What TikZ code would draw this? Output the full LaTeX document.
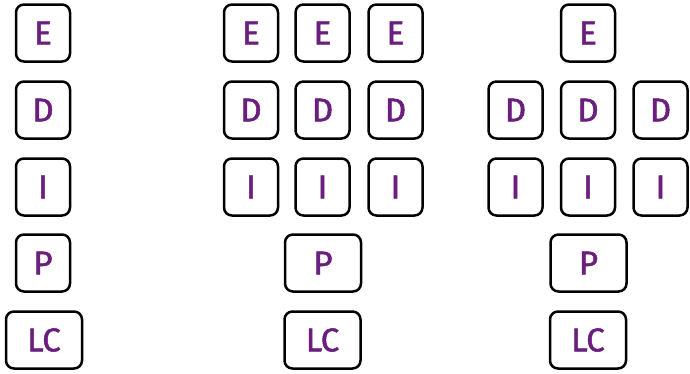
\documentclass[tikz,border=0pt]{standalone}
\usepackage{fontspec}
\setmainfont{Fira Sans}[FakeBold=1.5,UprightFeatures={FakeBold=1.5}]
\definecolor{letter}{HTML}{6A1E7E}
\begin{document}
\begin{tikzpicture}[x=1pt,y=-1pt,
  tile/.style={draw=black,line width=2.5pt,rounded corners=8pt,minimum width=54pt,minimum height=57pt,inner sep=0pt,text=letter,font=\fontsize{33}{33}\selectfont},
  widetile/.style={tile,minimum width=76pt}]
\useasboundingbox[fill=white] (0,0) rectangle (690,373);
% column 1
\node[tile] (aE) at (43,33) {E};
\node[tile] (aD) at (43,110) {D};
\node[tile] (aI) at (43,187) {I};
\node[tile] (aP) at (43,263) {P};
\node[widetile] (aLC) at (44,340) {LC};
% column 2
\node[tile] (bE1) at (251,33) {E};
\node[tile] (bE2) at (322.5,33) {E};
\node[tile] (bE3) at (395.5,33) {E};
\node[tile] (bD1) at (251,110) {D};
\node[tile] (bD2) at (322.5,110) {D};
\node[tile] (bD3) at (395.5,110) {D};
\node[tile] (bI1) at (251,187) {I};
\node[tile] (bI2) at (322.5,187) {I};
\node[tile] (bI3) at (395.5,187) {I};
\node[widetile] (bP) at (323,263) {P};
\node[widetile] (bLC) at (322.5,340) {LC};
% column 3
\node[tile] (cE) at (588,33) {E};
\node[tile] (cD1) at (515.5,110) {D};
\node[tile] (cD2) at (588,110) {D};
\node[tile] (cD3) at (660.5,110) {D};
\node[tile] (cI1) at (515.5,187) {I};
\node[tile] (cI2) at (588,187) {I};
\node[tile] (cI3) at (660.5,187) {I};
\node[widetile] (cP) at (588.5,263) {P};
\node[widetile] (cLC) at (588,340) {LC};
\end{tikzpicture}
\end{document}
